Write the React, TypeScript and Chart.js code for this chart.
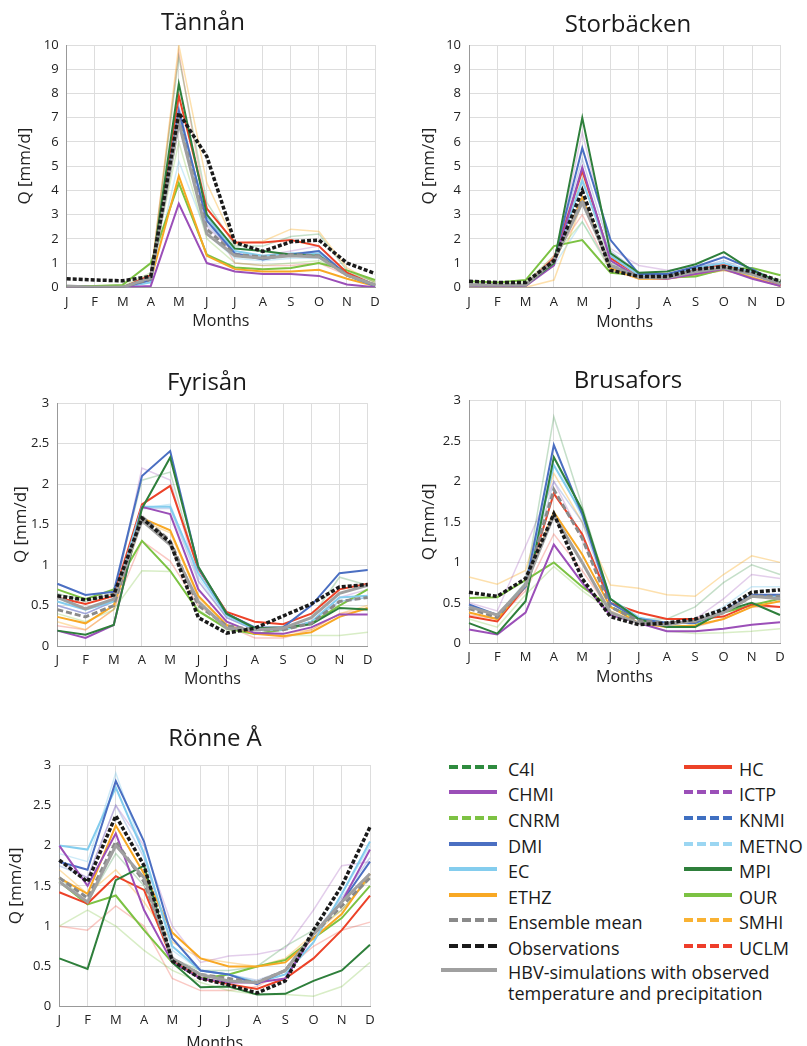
import React, { useEffect, useRef } from 'react';
import { Chart, registerables } from 'chart.js';
Chart.register(...registerables);

const FONT = '"Open Sans", "Noto Sans", sans-serif';
const MONTHS = ['J', 'F', 'M', 'A', 'M', 'J', 'J', 'A', 'S', 'O', 'N', 'D'];
const Y_TICKS_10 = [0, 1, 2, 3, 4, 5, 6, 7, 8, 9, 10];
const Y_TICKS_3 = [0, 0.5, 1, 1.5, 2, 2.5, 3];

const SERIES = ['C4I', 'CHMI', 'CNRM', 'DMI', 'EC', 'ETHZ', 'Ensemble mean', 'Observations', 'HBV', 'HC', 'ICTP', 'KNMI', 'METNO', 'MPI', 'OUR', 'SMHI', 'UCLM'];

const TANNAN: Record<string, number[]> = {
  C4I: [0.05, 0, 0, 0.4, 9.5, 3.5, 1.7, 1.7, 2.1, 2.2, 0.7, 0.2],
  CHMI: [0, 0, 0, 0.05, 3.45, 1.0, 0.65, 0.55, 0.55, 0.47, 0.12, 0],
  CNRM: [0.05, 0.05, 0.05, 0.6, 6.0, 2.0, 1.0, 0.9, 1.0, 1.1, 0.6, 0.25],
  DMI: [0, 0, 0, 0.3, 7.3, 2.75, 1.4, 1.15, 1.35, 1.5, 0.5, 0.05],
  EC: [0, 0, 0, 0.2, 7.1, 2.9, 1.5, 1.3, 1.4, 1.4, 0.5, 0.05],
  ETHZ: [0, 0, 0, 0.3, 4.6, 1.3, 0.75, 0.65, 0.65, 0.72, 0.35, 0.05],
  'Ensemble mean': [0, 0, 0, 0.35, 6.9, 2.4, 1.35, 1.25, 1.35, 1.3, 0.5, 0.1],
  Observations: [0.35, 0.3, 0.27, 0.45, 7.2, 5.4, 1.85, 1.48, 1.88, 1.95, 1.0, 0.57],
  HBV: [0.05, 0, 0, 0.4, 6.8, 2.2, 1.3, 1.2, 1.3, 1.25, 0.5, 0.1],
  HC: [0, 0, 0, 0.5, 7.9, 3.25, 1.85, 1.85, 1.95, 1.7, 0.6, 0.1],
  ICTP: [0, 0, 0, 0.3, 7.0, 2.5, 1.4, 1.3, 1.5, 1.7, 0.5, 0.1],
  KNMI: [0, 0, 0, 0.3, 7.5, 2.6, 1.4, 1.25, 1.4, 1.5, 0.5, 0.1],
  METNO: [0, 0, 0, 0.2, 5.2, 2.2, 1.2, 1.1, 1.2, 1.2, 0.5, 0.1],
  MPI: [0.05, 0, 0, 0.4, 8.4, 3.0, 1.6, 1.5, 1.35, 1.3, 0.5, 0.1],
  OUR: [0.05, 0.05, 0.1, 1.0, 4.3, 1.35, 0.82, 0.75, 0.8, 1.0, 0.7, 0.3],
  SMHI: [0, 0, 0, 0.4, 10.0, 4.3, 1.8, 1.9, 2.4, 2.3, 0.8, 0.2],
  UCLM: [0, 0, 0, 0.5, 9.7, 3.0, 1.0, 0.9, 0.9, 1.0, 0.5, 0.1],
};

const STORBACKEN: Record<string, number[]> = {
  C4I: [0.1, 0.1, 0.1, 1.2, 4.5, 1.0, 0.5, 0.5, 0.7, 0.9, 0.6, 0.2],
  CHMI: [0.05, 0.05, 0.05, 0.9, 4.95, 1.1, 0.4, 0.35, 0.55, 0.75, 0.35, 0.05],
  CNRM: [0.1, 0.1, 0.2, 1.3, 2.7, 0.7, 0.4, 0.4, 0.5, 0.7, 0.5, 0.3],
  DMI: [0.1, 0.1, 0.1, 1.1, 5.75, 1.95, 0.55, 0.55, 0.85, 1.25, 0.75, 0.15],
  EC: [0.1, 0.1, 0.1, 1.0, 4.4, 1.3, 0.5, 0.5, 0.8, 1.0, 0.6, 0.15],
  ETHZ: [0.05, 0.05, 0.05, 1.0, 3.7, 0.8, 0.35, 0.35, 0.55, 0.75, 0.4, 0.05],
  'Ensemble mean': [0.1, 0.1, 0.1, 1.1, 3.6, 0.9, 0.45, 0.45, 0.7, 0.85, 0.55, 0.15],
  Observations: [0.25, 0.2, 0.2, 1.1, 4.0, 0.7, 0.45, 0.45, 0.75, 0.85, 0.65, 0.25],
  HBV: [0.1, 0.1, 0.1, 1.1, 3.5, 0.9, 0.4, 0.4, 0.65, 0.8, 0.55, 0.15],
  HC: [0.1, 0.1, 0.1, 1.2, 4.8, 1.2, 0.5, 0.5, 0.75, 0.95, 0.6, 0.1],
  ICTP: [0.1, 0.1, 0.1, 1.0, 6.4, 1.6, 0.9, 0.7, 0.85, 1.0, 0.6, 0.15],
  KNMI: [0.1, 0.1, 0.1, 1.1, 5.3, 1.5, 0.6, 0.55, 0.8, 1.1, 0.65, 0.15],
  METNO: [0.1, 0.1, 0.1, 0.9, 2.7, 0.8, 0.4, 0.4, 0.6, 0.75, 0.5, 0.15],
  MPI: [0.1, 0.1, 0.1, 1.0, 7.0, 1.4, 0.6, 0.65, 0.95, 1.45, 0.7, 0.2],
  OUR: [0.25, 0.2, 0.3, 1.7, 1.95, 0.6, 0.5, 0.4, 0.45, 0.75, 0.8, 0.5],
  SMHI: [0, 0, 0, 0.3, 3.5, 0.8, 0.4, 0.35, 0.5, 0.7, 0.4, 0.1],
  UCLM: [0.1, 0.1, 0.1, 1.3, 3.0, 0.7, 0.35, 0.35, 0.5, 0.7, 0.45, 0.1],
};

const FYRISAN: Record<string, number[]> = {
  C4I: [0.65, 0.55, 0.65, 2.05, 2.15, 0.9, 0.4, 0.22, 0.22, 0.35, 0.85, 0.75],
  CHMI: [0.19, 0.1, 0.26, 1.72, 1.63, 0.7, 0.3, 0.16, 0.15, 0.23, 0.39, 0.39],
  CNRM: [0.4, 0.3, 0.45, 0.93, 0.92, 0.45, 0.2, 0.15, 0.13, 0.13, 0.13, 0.17],
  DMI: [0.77, 0.63, 0.67, 2.1, 2.41, 0.97, 0.4, 0.23, 0.23, 0.5, 0.9, 0.94],
  EC: [0.55, 0.45, 0.55, 1.72, 1.72, 0.9, 0.38, 0.2, 0.2, 0.3, 0.6, 0.62],
  ETHZ: [0.36, 0.28, 0.5, 1.58, 1.43, 0.62, 0.26, 0.15, 0.12, 0.17, 0.36, 0.47],
  'Ensemble mean': [0.45, 0.36, 0.5, 1.6, 1.3, 0.5, 0.25, 0.2, 0.2, 0.28, 0.55, 0.6],
  Observations: [0.62, 0.57, 0.63, 1.58, 1.28, 0.35, 0.16, 0.22, 0.37, 0.52, 0.73, 0.76],
  HBV: [0.6, 0.46, 0.58, 1.55, 1.25, 0.55, 0.22, 0.2, 0.22, 0.35, 0.65, 0.75],
  HC: [0.6, 0.52, 0.62, 1.75, 1.98, 0.95, 0.42, 0.3, 0.27, 0.4, 0.7, 0.77],
  ICTP: [0.5, 0.4, 0.55, 2.2, 2.05, 0.8, 0.35, 0.2, 0.2, 0.3, 0.6, 0.7],
  KNMI: [0.5, 0.4, 0.55, 1.7, 1.7, 0.8, 0.35, 0.2, 0.2, 0.3, 0.55, 0.6],
  METNO: [0.5, 0.4, 0.55, 1.7, 1.75, 0.85, 0.35, 0.2, 0.2, 0.3, 0.55, 0.6],
  MPI: [0.19, 0.14, 0.26, 1.7, 2.33, 0.98, 0.4, 0.22, 0.23, 0.27, 0.47, 0.45],
  OUR: [0.7, 0.58, 0.7, 1.3, 0.93, 0.43, 0.22, 0.15, 0.2, 0.28, 0.5, 0.7],
  SMHI: [0.3, 0.2, 0.45, 1.55, 1.4, 0.6, 0.25, 0.15, 0.15, 0.2, 0.4, 0.5],
  UCLM: [0.25, 0.2, 0.45, 1.3, 1.05, 0.5, 0.25, 0.1, 0.1, 0.2, 0.4, 0.45],
};

const BRUSAFORS: Record<string, number[]> = {
  C4I: [0.45, 0.35, 0.75, 2.8, 1.7, 0.55, 0.3, 0.3, 0.45, 0.75, 0.97, 0.85],
  CHMI: [0.17, 0.11, 0.38, 1.22, 0.75, 0.35, 0.25, 0.15, 0.15, 0.18, 0.23, 0.26],
  CNRM: [0.3, 0.2, 0.6, 0.95, 0.65, 0.4, 0.25, 0.15, 0.12, 0.13, 0.15, 0.18],
  DMI: [0.48, 0.35, 0.7, 2.45, 1.6, 0.5, 0.3, 0.25, 0.25, 0.4, 0.6, 0.6],
  EC: [0.45, 0.35, 0.7, 2.2, 1.6, 0.55, 0.32, 0.25, 0.25, 0.38, 0.58, 0.58],
  ETHZ: [0.38, 0.3, 0.72, 1.62, 1.1, 0.45, 0.25, 0.2, 0.22, 0.3, 0.45, 0.52],
  'Ensemble mean': [0.43, 0.32, 0.72, 1.9, 1.3, 0.45, 0.28, 0.25, 0.27, 0.38, 0.58, 0.58],
  Observations: [0.63, 0.58, 0.8, 1.6, 0.8, 0.33, 0.23, 0.25, 0.3, 0.42, 0.63, 0.66],
  HBV: [0.45, 0.35, 0.72, 1.58, 1.0, 0.38, 0.25, 0.23, 0.28, 0.38, 0.58, 0.55],
  HC: [0.33, 0.27, 0.7, 1.85, 1.35, 0.5, 0.38, 0.3, 0.3, 0.33, 0.48, 0.45],
  ICTP: [0.5, 0.4, 1.2, 2.0, 1.3, 0.5, 0.3, 0.25, 0.3, 0.55, 0.85, 0.8],
  KNMI: [0.45, 0.35, 0.75, 2.0, 1.5, 0.5, 0.3, 0.25, 0.27, 0.4, 0.6, 0.6],
  METNO: [0.45, 0.35, 0.7, 2.3, 1.55, 0.55, 0.3, 0.25, 0.28, 0.45, 0.7, 0.7],
  MPI: [0.25, 0.12, 0.52, 2.3, 1.65, 0.55, 0.3, 0.2, 0.2, 0.4, 0.5, 0.35],
  OUR: [0.56, 0.57, 0.78, 1.0, 0.7, 0.45, 0.3, 0.2, 0.22, 0.38, 0.47, 0.55],
  SMHI: [0.82, 0.73, 0.9, 2.1, 1.5, 0.72, 0.68, 0.6, 0.58, 0.85, 1.08, 1.0],
  UCLM: [0.35, 0.3, 0.65, 1.35, 0.9, 0.4, 0.25, 0.2, 0.2, 0.3, 0.45, 0.45],
};

const RONNE: Record<string, number[]> = {
  C4I: [1.6, 1.3, 1.9, 1.5, 0.6, 0.45, 0.45, 0.5, 0.75, 0.95, 1.2, 1.6],
  CHMI: [2.0, 1.5, 2.15, 1.2, 0.55, 0.35, 0.3, 0.3, 0.35, 0.9, 1.3, 1.95],
  CNRM: [1.0, 1.2, 1.0, 0.7, 0.45, 0.3, 0.2, 0.15, 0.15, 0.13, 0.25, 0.55],
  DMI: [1.8, 1.7, 2.8, 2.05, 0.85, 0.45, 0.4, 0.28, 0.45, 0.9, 1.3, 1.8],
  EC: [2.0, 1.95, 2.72, 1.9, 0.75, 0.45, 0.4, 0.3, 0.4, 0.8, 1.4, 2.05],
  ETHZ: [1.6, 1.4, 2.25, 1.65, 0.92, 0.6, 0.5, 0.5, 0.55, 0.85, 1.15, 1.65],
  'Ensemble mean': [1.6, 1.35, 2.05, 1.55, 0.6, 0.4, 0.35, 0.3, 0.45, 0.9, 1.25, 1.6],
  Observations: [1.82, 1.55, 2.37, 1.75, 0.57, 0.35, 0.27, 0.17, 0.32, 0.95, 1.5, 2.23],
  HBV: [1.55, 1.3, 2.0, 1.6, 0.6, 0.4, 0.32, 0.3, 0.45, 0.9, 1.3, 1.65],
  HC: [1.42, 1.28, 1.62, 1.45, 0.58, 0.35, 0.28, 0.22, 0.35, 0.6, 0.95, 1.38],
  ICTP: [1.8, 1.6, 2.5, 2.0, 1.0, 0.55, 0.63, 0.65, 0.72, 1.2, 1.75, 1.8],
  KNMI: [1.75, 1.6, 2.5, 1.85, 0.75, 0.45, 0.4, 0.33, 0.45, 0.9, 1.35, 1.85],
  METNO: [1.9, 1.8, 2.9, 1.9, 0.7, 0.45, 0.4, 0.3, 0.4, 0.8, 1.4, 2.0],
  MPI: [0.6, 0.47, 1.57, 1.75, 0.55, 0.24, 0.25, 0.15, 0.16, 0.32, 0.45, 0.77],
  OUR: [1.55, 1.27, 1.38, 0.95, 0.55, 0.35, 0.4, 0.5, 0.58, 0.85, 1.1, 1.5],
  SMHI: [1.7, 1.4, 1.7, 1.3, 0.8, 0.6, 0.55, 0.5, 0.6, 0.9, 1.2, 1.6],
  UCLM: [1.0, 0.95, 1.25, 1.0, 0.35, 0.2, 0.2, 0.25, 0.45, 0.75, 0.95, 1.05],
};

type Sty = { color: string; plot: string; width: number; dash: boolean; order: number };
const STY: Record<string, Sty> = {
  C4I: { color: '#2e8b3e', plot: 'rgba(46,139,62,0.28)', width: 1.5, dash: true, order: 5 },
  CHMI: { color: '#9b4fb8', plot: '#9b4fb8', width: 2, dash: false, order: 4 },
  CNRM: { color: '#7dc243', plot: 'rgba(125,194,67,0.3)', width: 1.5, dash: true, order: 5 },
  DMI: { color: '#4b6fc2', plot: '#4b6fc2', width: 2, dash: false, order: 4 },
  EC: { color: '#84cdee', plot: '#84cdee', width: 2, dash: false, order: 4 },
  ETHZ: { color: '#f8a824', plot: '#f8a824', width: 2, dash: false, order: 4 },
  'Ensemble mean': { color: '#8a8a8a', plot: '#8a8a8a', width: 3, dash: true, order: 2 },
  Observations: { color: '#1a1a1a', plot: '#1a1a1a', width: 3.5, dash: true, order: 0 },
  HBV: { color: '#a0a0a0', plot: '#a0a0a0', width: 3, dash: false, order: 1 },
  HC: { color: '#ec4228', plot: '#ec4228', width: 2, dash: false, order: 4 },
  ICTP: { color: '#9b4fb8', plot: 'rgba(155,79,184,0.28)', width: 1.5, dash: true, order: 5 },
  KNMI: { color: '#3f6fc1', plot: 'rgba(63,111,193,0.28)', width: 1.5, dash: true, order: 5 },
  METNO: { color: '#9bd6f2', plot: 'rgba(132,205,238,0.4)', width: 1.5, dash: true, order: 5 },
  MPI: { color: '#2e7f3b', plot: '#2e7f3b', width: 2, dash: false, order: 3 },
  OUR: { color: '#7cc243', plot: '#7cc243', width: 2, dash: false, order: 4 },
  SMHI: { color: '#f9b233', plot: 'rgba(249,178,51,0.4)', width: 1.5, dash: true, order: 5 },
  UCLM: { color: '#ee3d2a', plot: 'rgba(238,61,42,0.28)', width: 1.5, dash: true, order: 5 },
};

const LEGEND_LEFT = ['C4I', 'CHMI', 'CNRM', 'DMI', 'EC', 'ETHZ', 'Ensemble mean', 'Observations'];
const LEGEND_RIGHT = ['HC', 'ICTP', 'KNMI', 'METNO', 'MPI', 'OUR', 'SMHI', 'UCLM'];

type PanelSpec = {
  title: string; data: Record<string, number[]>; ticks: number[];
  left: number; top: number; W: number; H: number;
  plotL: number; plotT: number; plotR: number; plotB: number;
  yTitleX: number; tickY: number; monthsY: number; titleX: number; titleBase: number;
};

const PANELS: PanelSpec[] = [
  { title: 'Tännån', data: TANNAN, ticks: Y_TICKS_10, left: 0, top: 0, W: 400, H: 340, plotL: 66.7, plotT: 45, plotR: 375, plotB: 287.3, yTitleX: 25, tickY: 301.7, monthsY: 321.7, titleX: 203, titleBase: 30.5 },
  { title: 'Storbäcken', data: STORBACKEN, ticks: Y_TICKS_10, left: 400, top: 0, W: 407, H: 340, plotL: 469, plotT: 45, plotR: 780.5, plotB: 287.3, yTitleX: 429.5, tickY: 301.7, monthsY: 322, titleX: 628, titleBase: 32 },
  { title: 'Fyrisån', data: FYRISAN, ticks: Y_TICKS_3, left: 0, top: 350, W: 400, H: 350, plotL: 57.3, plotT: 403.3, plotR: 367.7, plotB: 646, yTitleX: 21, tickY: 659.3, monthsY: 679.3, titleX: 207, titleBase: 390 },
  { title: 'Brusafors', data: BRUSAFORS, ticks: Y_TICKS_3, left: 400, top: 350, W: 407, H: 350, plotL: 469, plotT: 400.5, plotR: 780, plotB: 643.3, yTitleX: 429.5, tickY: 656.7, monthsY: 677.3, titleX: 628, titleBase: 388.5 },
  { title: 'Rönne Å', data: RONNE, ticks: Y_TICKS_3, left: 0, top: 720, W: 400, H: 345, plotL: 59.3, plotT: 765, plotR: 370, plotB: 1006.7, yTitleX: 16, tickY: 1019.3, monthsY: 1043, titleX: 215, titleBase: 746.5 },
];

function Panel({ p }: { p: PanelSpec }) {
  const ref = useRef<HTMLCanvasElement>(null);
  useEffect(() => {
    const max = p.ticks[p.ticks.length - 1];
    const step = p.ticks[1] - p.ticks[0];
    const datasets = SERIES.map((name) => {
      const s = STY[name];
      const isRef = name === 'Observations' || name === 'Ensemble mean';
      return {
        label: name,
        data: p.data[name],
        borderColor: s.plot,
        backgroundColor: s.plot,
        borderWidth: s.width,
        borderDash: isRef ? (name === 'Observations' ? [4, 2] : [6, 3]) : [],
        pointRadius: 0,
        tension: 0,
        fill: false,
        order: s.order,
      };
    });
    const chart = new Chart(ref.current!, {
      type: 'line',
      data: { labels: MONTHS, datasets },
      options: {
        responsive: false,
        animation: false,
        devicePixelRatio: 1,
        events: [],
        layout: { padding: { top: p.plotT - p.top, right: p.left + p.W - p.plotR, left: 0, bottom: 0 } },
        plugins: { legend: { display: false }, tooltip: { enabled: false }, title: { display: false } },
        scales: {
          x: {
            type: 'category',
            offset: false,
            grid: { color: '#dddddd', drawTicks: false },
            border: { color: '#999999' },
            ticks: { font: { family: FONT, size: 13 }, color: '#222', padding: p.tickY - p.plotB - 6.8, autoSkip: false, maxRotation: 0 },
            title: { display: true, text: 'Months', font: { family: FONT, size: 16 }, color: '#222', padding: { top: 0, bottom: p.top + p.H - p.monthsY - 9.6 } },
            afterFit: (s: any) => { s.height = p.top + p.H - p.plotB; },
          },
          y: {
            min: 0,
            max,
            grid: { color: '#dddddd', drawTicks: false },
            border: { color: '#999999' },
            ticks: { stepSize: step, font: { family: FONT, size: 13 }, color: '#222', padding: 8, callback: (v: number) => String(v) },
            title: { display: true, text: 'Q [mm/d]', font: { family: FONT, size: 17 }, color: '#222', padding: { top: p.yTitleX - p.left - 10.2, bottom: 0 } },
            afterFit: (s: any) => { s.width = p.plotL - p.left; },
          },
        },
      },
    } as any);
    return () => chart.destroy();
  }, []);
  return (
    <>
      <canvas ref={ref} width={p.W} height={p.H} style={{ position: 'absolute', left: p.left, top: p.top, width: p.W, height: p.H }} />
      <div style={{ position: 'absolute', left: p.titleX - 150, width: 300, top: p.titleBase - 21.3, textAlign: 'center', font: `24px ${FONT}`, lineHeight: '24px', color: '#1a1a1a', whiteSpace: 'nowrap' }}>{p.title}</div>
    </>
  );
}

function Sample({ name, x, y, w }: { name: string; x: number; y: number; w: number }) {
  const s = STY[name];
  return (
    <svg width={w} height={8} style={{ position: 'absolute', left: x, top: y - 4 }}>
      <line x1={0} y1={4} x2={w} y2={4} stroke={s.color} strokeWidth={4} strokeDasharray={s.dash ? '9 4' : undefined} />
    </svg>
  );
}

function Legend() {
  const rowY = (i: number) => 766.7 + i * 25.6;
  const txt = (x: number, y: number, t: string) => (
    <div style={{ position: 'absolute', left: x, top: y - 10, height: 20, lineHeight: '20px', font: `18px ${FONT}`, color: '#1a1a1a', whiteSpace: 'nowrap' }}>{t}</div>
  );
  return (
    <>
      {LEGEND_LEFT.map((n, i) => (
        <React.Fragment key={n}>
          <Sample name={n} x={449} y={rowY(i)} w={48} />
          {txt(508, rowY(i), n)}
        </React.Fragment>
      ))}
      {LEGEND_RIGHT.map((n, i) => (
        <React.Fragment key={n}>
          <Sample name={n} x={684} y={rowY(i)} w={48} />
          {txt(739, rowY(i), n)}
        </React.Fragment>
      ))}
      <Sample name="HBV" x={441} y={970} w={56} />
      {txt(508, 970, 'HBV-simulations with observed')}
      {txt(508, 991, 'temperature and precipitation')}
    </>
  );
}

export default function App() {
  return (
    <div style={{ position: 'absolute', left: 0, top: 0, width: 807, height: 1046, overflow: 'hidden', background: '#fff' }}>
      {PANELS.map((p) => <Panel key={p.title} p={p} />)}
      <Legend />
    </div>
  );
}
